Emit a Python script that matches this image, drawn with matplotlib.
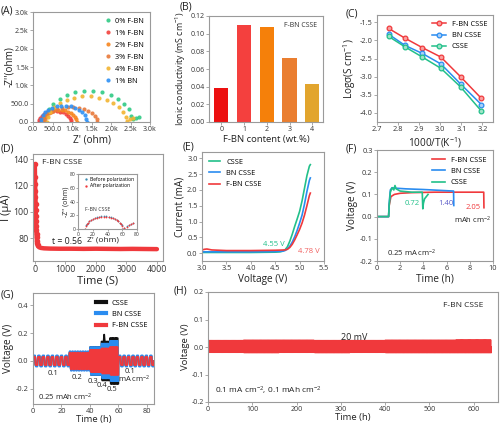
import matplotlib
matplotlib.use("Agg")
import matplotlib.pyplot as plt
from matplotlib.lines import Line2D
import numpy as np

plt.rcParams["font.family"] = ["Open Sans", "DejaVu Sans"]
plt.rcParams["mathtext.fontset"] = "custom"
plt.rcParams["mathtext.rm"] = "Open Sans"
plt.rcParams["mathtext.it"] = "Open Sans:italic"
plt.rcParams["axes.unicode_minus"] = False

W, H = 500, 425

GREEN = "#22c08a"
BLUE = "#2a8cf0"
RED = "#f0393c"

# (A) Nyquist plots, Z' and -Z'' in ohm
a_labels = ["0% F-BN", "1% F-BN", "2% F-BN", "3% F-BN", "4% F-BN", "1% BN"]
a_colors = ["#2fca84", "#f2413c", "#f7851e", "#e8793a", "#f2b431", "#2c90f5"]
a_zre = [
    [310, 335, 406, 524, 681, 870, 1084, 1312, 1548, 1776, 1990, 2179, 2336, 2454, 2525, 2560, 2640, 2720],
    [150, 159, 186, 229, 287, 357, 437, 521, 609, 693, 773, 843, 901, 944, 971, 980],
    [250, 260, 287, 333, 394, 467, 551, 639, 731, 819, 903, 976, 1037, 1083, 1110, 1120],
    [280, 295, 339, 411, 507, 622, 753, 893, 1037, 1177, 1308, 1423, 1519, 1591, 1635, 1650],
    [350, 373, 438, 546, 689, 862, 1058, 1267, 1483, 1692, 1888, 2061, 2204, 2312, 2377, 2400, 2480, 2560],
    [200, 213, 251, 313, 395, 495, 608, 728, 852, 972, 1085, 1185, 1267, 1329, 1367, 1380],
]
a_zim = [
    [0, 177, 346, 500, 632, 736, 808, 846, 846, 808, 736, 632, 500, 346, 177, 70, 100, 140],
    [0, 62, 122, 176, 223, 260, 285, 299, 299, 285, 260, 223, 176, 122, 62, 0],
    [0, 69, 134, 194, 245, 286, 314, 328, 328, 314, 286, 245, 194, 134, 69, 0],
    [0, 83, 163, 235, 297, 346, 380, 398, 398, 380, 346, 297, 235, 163, 83, 0],
    [0, 146, 285, 412, 520, 606, 666, 697, 697, 666, 606, 520, 412, 285, 146, 30, 70, 120],
    [0, 94, 183, 265, 334, 390, 428, 448, 448, 428, 390, 334, 265, 183, 94, 0],
]

# (B) ionic conductivity
b_content = [0, 1, 2, 3, 4]
b_sigma = [0.039, 0.110, 0.107, 0.072, 0.043]
b_colors = ["#ec1010", "#f4403e", "#f5800a", "#ea7e30", "#e2a52e"]

# (C) Arrhenius plot
c_inv_t = [2.755, 2.833, 2.915, 3.003, 3.096, 3.195]
c_fbn = [-1.67, -1.94, -2.20, -2.46, -3.00, -3.60]
c_bn = [-1.83, -2.14, -2.36, -2.65, -3.20, -3.77]
c_csse = [-1.89, -2.18, -2.46, -2.77, -3.28, -3.95]

# (D) chronoamperometry
d_time = [0, 5, 10, 15, 20, 25, 30, 35, 40, 45, 50, 55, 60, 70, 80, 90, 100, 120, 150,
          200, 300, 500, 800, 1200, 1600, 2000, 2400, 2800, 3200, 3600, 4000]
d_curr = [136, 126, 121, 116, 111, 106, 101, 97, 93, 89, 86, 83, 81, 78, 76, 75, 74, 73.5, 73,
          72.6, 72.3, 72.1, 72.0, 72.0, 71.9, 72.0, 71.9, 71.8, 71.9, 71.8, 71.7]
d_in_zre = [10, 10.9, 12, 13.4, 15.2, 17.3, 19.8, 22.5, 25.4, 28.5, 31.7, 35, 38.3, 41.5,
            44.6, 47.5, 50.2, 52.7, 54.8, 56.6, 58, 59.2, 60, 63, 66, 69, 72, 74]
d_in_zim = [0, 4.7, 6.9, 9, 11, 12.7, 14.3, 15.6, 16.6, 17.4, 17.8, 18, 17.8, 17.4,
            16.6, 15.6, 14.3, 12.7, 11, 9, 6.9, 4.7, 0, 1.5, 3.5, 5.5, 7.5, 9]

# (E) LSV
e_v_csse = [3.0, 3.5, 4.0, 4.5, 4.6, 4.65, 4.7, 4.75, 4.8, 4.85, 4.9, 4.95, 5.0, 5.05, 5.1, 5.15, 5.2, 5.22]
e_i_csse = [0.02, 0.02, 0.02, 0.03, 0.04, 0.06, 0.1, 0.2, 0.38, 0.6, 0.85, 1.08, 1.32, 1.65, 2.05, 2.45, 2.75, 2.8]
e_v_bn = [3.0, 3.5, 4.0, 4.5, 4.65, 4.7, 4.75, 4.8, 4.85, 4.9, 4.95, 5.0, 5.05, 5.1, 5.15, 5.2, 5.22]
e_i_bn = [0.04, 0.04, 0.04, 0.05, 0.06, 0.08, 0.13, 0.22, 0.35, 0.52, 0.72, 0.95, 1.2, 1.55, 1.95, 2.3, 2.38]
e_v_fbn = [3.0, 3.05, 3.1, 3.2, 3.5, 4.0, 4.5, 4.7, 4.75, 4.8, 4.85, 4.9, 4.95, 5.0, 5.05, 5.1, 5.15, 5.2, 5.22]
e_i_fbn = [0.1, 0.12, 0.13, 0.1, 0.08, 0.08, 0.09, 0.1, 0.12, 0.18, 0.28, 0.42, 0.58, 0.75, 0.95, 1.2, 1.5, 1.82, 1.9]

# (F) critical current test
f_t_fbn = [0, 1.0, 1.05, 1.2, 1.5, 2.0, 3.0, 5.0, 7.0, 9.0, 9.2, 9.22]
f_v_fbn = [0, 0, 0.05, 0.09, 0.1, 0.105, 0.108, 0.11, 0.11, 0.11, 0.11, 0.04]
f_t_bn = [0, 1.0, 1.05, 1.15, 1.3, 1.6, 2.5, 4.0, 5.5, 6.6, 6.62]
f_v_bn = [0, 0, 0.06, 0.12, 0.13, 0.128, 0.125, 0.122, 0.118, 0.115, 0.05]
f_t_csse = [0, 1.0, 1.05, 1.15, 1.3, 1.45, 1.55, 1.65, 2.0, 3.0, 3.9, 3.95, 4.0, 4.1, 4.25, 4.4]
f_v_csse = [0, 0, 0.05, 0.11, 0.13, 0.12, 0.14, 0.125, 0.115, 0.11, 0.11, 0.035, 0.06, 0.08, 0.09, 0.1]
f_caps = ["0.72", "1.40", "2.05"]

# (G) rate performance, one entry per current step
g_start = [0, 25.5, 40, 48, 54, 60]
g_end = [25.5, 40, 48, 54, 60, 85]
g_cycles = [8, 8, 7, 6, 6, 8]
g_rates = ["0.1", "0.2", "0.3", "0.4", "0.5", "0.1"]
g_eta_csse = [0.035, 0.065, 0.10, 0.14, 0.165, 0.035]
g_eta_bn = [0.04, 0.07, 0.10, 0.125, 0.145, 0.04]
g_eta_fbn = [0.03, 0.06, 0.08, 0.09, 0.10, 0.03]
g_spike_t = [49.6, 50.0, 50.4]
g_spike_v = [0.14, 0.19, 0.14]

# (H) long-term cycling, band amplitude per 80 h block
h_block_end = [80, 160, 240, 320, 400, 480, 560, 640]
h_eta_up = [0.024, 0.025, 0.025, 0.024, 0.024, 0.025, 0.025, 0.026]
h_eta_dn = [0.020, 0.021, 0.020, 0.021, 0.020, 0.021, 0.021, 0.021]
h_half_cycle = 1.0

TICK = 5.3
LABEL = 7.2
INK = "#222222"


def add_panel(fig, l, t, r, b):
    return fig.add_axes([l / W, 1 - b / H, (r - l) / W, (b - t) / H])


def style(ax, size=TICK):
    for s in ax.spines.values():
        s.set_color("#9a9a9a")
        s.set_linewidth(0.8)
    ax.tick_params(direction="out", length=2, width=0.6, color="#9a9a9a",
                   labelsize=size, labelcolor="#333333", pad=1.2)


def square_wave(t0, t1, n_cycles, eta_up, eta_dn):
    half = (t1 - t0) / (2 * n_cycles)
    ts, vs = [], []
    for k in range(2 * n_cycles):
        s = t0 + k * half
        sign = 1 if k % 2 == 0 else -1
        eta = eta_up if sign > 0 else eta_dn
        ts += [s, s + 0.1 * half, s + 0.3 * half, s + 0.9 * half]
        vs += [0, sign * eta * 0.8, sign * eta, sign * eta]
    ts.append(t1)
    vs.append(0)
    return ts, vs


def panel_label(x, y, s):
    fig.text(x / W, 1 - y / H, s, fontsize=7.5, va="center", color=INK)


fig = plt.figure(figsize=(W / 100, H / 100), dpi=100)
lab = dict(fontsize=LABEL, color=INK)

# ---- (A)
ax = add_panel(fig, 33, 12, 150, 122)
style(ax, 5)
for zr, zi, c, l in zip(a_zre, a_zim, a_colors, a_labels):
    ax.plot(zr, zi, "o", ms=3.0, color=c, label=l, alpha=0.9, mec="none")
ax.set_xlim(0, 3000)
ax.set_ylim(0, 3000)
ticks = [0, 500, 1000, 1500, 2000, 2500, 3000]
tick_lab = ["0.0", "500.0", "1.0k", "1.5k", "2.0k", "2.5k", "3.0k"]
ax.set_xticks(ticks, tick_lab)
ax.set_yticks(ticks, tick_lab)
ax.set_xlabel("Z' (ohm)", labelpad=1, **lab)
ax.set_ylabel("-Z''(ohm)", **lab)
ax.yaxis.set_label_coords(-0.155, 0.5)
ax.legend(loc="upper right", frameon=False, fontsize=5.3, handletextpad=0.4,
          labelspacing=0.65, borderaxespad=0.4, handlelength=1.2)
panel_label(1, 11, "(A)")

# ---- (B)
ax = add_panel(fig, 209, 16, 323, 122)
style(ax, 5)
ax.bar(b_content, b_sigma, width=0.62, color=b_colors)
ax.set_xlim(-0.54, 4.47)
ax.set_ylim(0, 0.12)
ax.set_yticks(np.arange(0, 0.121, 0.02), [f"{v:.2f}" for v in np.arange(0, 0.121, 0.02)])
ax.set_xticks(b_content)
ax.set_xlabel("F-BN content (wt.%)", labelpad=1, fontsize=6.8, color=INK)
ax.set_ylabel("Ionic conductivity (mS cm$^{-1}$)", labelpad=1.5, fontsize=6.3, color=INK)
ax.text(0.95, 0.91, "F-BN CSSE", transform=ax.transAxes, ha="right", va="center", fontsize=5, color="#333333")
panel_label(180, 7, "(B)")

# ---- (C)
ax = add_panel(fig, 377, 15, 493, 122)
style(ax)
for y, c, mfc, l in [(c_fbn, RED, "#f8a0a0", "F-BN CSSE"), (c_bn, BLUE, "#a8d0f8", "BN CSSE"),
                     (c_csse, GREEN, "#a0e4c8", "CSSE")]:
    ax.plot(c_inv_t, y, "-o", color=c, lw=1.1, ms=3.4, mfc=mfc, mec=c, mew=0.9, label=l)
ax.set_xlim(2.7, 3.25)
ax.set_ylim(-4.25, -1.3)
ax.set_xticks([2.7, 2.8, 2.9, 3.0, 3.1, 3.2])
ax.set_yticks([-4.0, -3.5, -3.0, -2.5, -2.0, -1.5])
ax.set_xlabel("1000/T(K$^{-1}$)", labelpad=1, **lab)
ax.set_ylabel("Log\u03c3(S cm$^{-1}$)", labelpad=1, **lab)
ax.legend(loc="upper right", frameon=False, fontsize=5.3, handlelength=1.8, labelspacing=0.55, borderaxespad=0.4)
panel_label(346, 14, "(C)")

# ---- (D)
ax = add_panel(fig, 33, 154, 163, 261)
style(ax, 6.3)
ax.plot(d_time, d_curr, "-", color=RED, lw=3.2, solid_capstyle="round")
ax.plot(d_time[:16], d_curr[:16], "o", color=RED, ms=3)
ax.set_xlim(-60, 4200)
ax.set_ylim(62.7, 143.8)
ax.set_xticks([0, 1000, 2000, 3000, 4000])
ax.set_yticks([80, 100, 120, 140])
ax.set_xlabel("Time (S)", labelpad=1, fontsize=8, color=INK)
ax.set_ylabel("I (\u03bcA)", labelpad=1, fontsize=8, color=INK)
ax.text(230, 137, "F-BN CSSE", fontsize=6, va="center", color=INK)
ax.text(560, 77.7, "t = 0.56", fontsize=6.3, va="center", color=INK)
panel_label(1, 149, "(D)")

ax = add_panel(fig, 78, 174, 137, 229)
style(ax, 3.6)
ax.tick_params(length=1.2, pad=0.6)
ax.plot(d_in_zre, [v + 0.4 for v in d_in_zim], "o", ms=1.3, color="#3a8cb0", mec="none", label="Before polarization")
ax.plot(d_in_zre, d_in_zim, "o", ms=1.3, color=RED, mec="none", label="After polarization")
ax.set_xlim(0, 80)
ax.set_ylim(0, 80)
ax.set_xticks([0, 20, 40, 60, 80])
ax.set_yticks([0, 20, 40, 60, 80])
ax.set_xlabel("Z' (ohm)", fontsize=6, color=INK)
ax.xaxis.set_label_coords(0.42, -0.14)
ax.set_ylabel("-Z'' (ohm)", labelpad=0.5, fontsize=5, color=INK)
ax.text(10, 26, "F-BN CSSE", fontsize=3.8, color="#333333")
ax.legend(loc="upper right", frameon=False, fontsize=3.6, handletextpad=0.2, handlelength=1,
          labelspacing=0.3, borderaxespad=0.2, markerscale=1.3)

# ---- (E)
ax = add_panel(fig, 202, 152, 324, 261)
style(ax)
ax.plot(e_v_csse, e_i_csse, color=GREEN, lw=1.2, label="CSSE")
ax.plot(e_v_bn, e_i_bn, color=BLUE, lw=1.2, label="BN CSSE")
ax.plot(e_v_fbn, e_i_fbn, color=RED, lw=1.2, label="F-BN CSSE")
ax.set_xlim(3.0, 5.5)
ax.set_ylim(-0.25, 3.2)
ax.set_xticks([3.0, 3.5, 4.0, 4.5, 5.0, 5.5])
ax.set_yticks([0.0, 0.5, 1.0, 1.5, 2.0, 2.5, 3.0])
ax.set_xlabel("Voltage (V)", labelpad=1, **lab)
ax.set_ylabel("Current (mA)", labelpad=1, **lab)
ax.text(4.26, 0.28, "4.55 V", fontsize=5.5, color=GREEN, va="center")
ax.text(4.96, 0.06, "4.78 V", fontsize=5.5, color="#f06060", va="center")
ax.legend(loc="upper left", frameon=False, fontsize=5.3, handlelength=1.6, labelspacing=0.55, borderaxespad=0.5)
panel_label(183, 147, "(E)")

# ---- (F)
ax = add_panel(fig, 377, 150, 493, 261)
style(ax)
ax.plot(f_t_fbn, f_v_fbn, color=RED, lw=1.2, label="F-BN CSSE")
ax.plot(f_t_bn, f_v_bn, color=BLUE, lw=1.2, label="BN CSSE")
ax.plot(f_t_csse, f_v_csse, color=GREEN, lw=1.2, label="CSSE")
ax.set_xlim(0, 10)
ax.set_ylim(-0.2, 0.3)
ax.set_xticks([0, 2, 4, 6, 8, 10])
ax.set_yticks([-0.2, -0.1, 0.0, 0.1, 0.2, 0.3])
ax.set_xlabel("Time (h)", labelpad=1, **lab)
ax.set_ylabel("Voltage (V)", labelpad=1, **lab)
ax.text(3.0, 0.057, f_caps[0], fontsize=5.5, color=GREEN, ha="center", va="center")
ax.text(5.9, 0.057, f_caps[1], fontsize=5.5, color="#5a5ac8", ha="center", va="center")
ax.text(8.3, 0.04, f_caps[2], fontsize=5.5, color=RED, ha="center", va="center")
ax.text(9.8, -0.015, "mAh cm$^{-2}$", fontsize=5.5, color=INK, ha="right", va="center")
ax.text(0.9, -0.165, "0.25 mA cm$^{-2}$", fontsize=5.5, color=INK, va="center")
ax.legend(loc="upper right", frameon=False, fontsize=5.3, handlelength=1.8, labelspacing=0.55, borderaxespad=0.5)
panel_label(346, 149, "(F)")

# ---- (G)
ax = add_panel(fig, 33, 293, 154, 404)
style(ax)
ax.tick_params(axis="x", pad=0.8)
for etas, c, l in [(g_eta_csse, "#111111", "CSSE"), (g_eta_bn, BLUE, "BN CSSE"), (g_eta_fbn, RED, "F-BN CSSE")]:
    tt, vv = [], []
    for t0, t1, n, e in zip(g_start, g_end, g_cycles, etas):
        ts, vs = square_wave(t0, t1, n, e, e)
        tt += ts
        vv += vs
    ax.plot(tt, vv, color=c, lw=1.3, label=l)
    if l == "CSSE":
        ax.plot(g_spike_t, g_spike_v, color=c, lw=1.3)
ax.set_xlim(0, 85)
ax.set_ylim(-0.31, 0.49)
ax.set_xticks([0, 20, 40, 60, 80])
ax.set_yticks([-0.2, 0.0, 0.2, 0.4])
ax.set_xlabel("Time (h)", fontsize=6.8, color=INK)
ax.xaxis.set_label_coords(0.5, -0.1)
ax.set_ylabel("Voltage (V)", labelpad=1, **lab)
g_lab_x = [14, 31, 42, 48.2, 55.2, 68]
g_lab_y = [-0.09, -0.117, -0.145, -0.176, -0.205, -0.073]
for x, y, s in zip(g_lab_x, g_lab_y, g_rates):
    ax.text(x, y, s, fontsize=5.5, ha="center", va="center", color=INK)
ax.text(60, -0.133, "mA cm$^{-2}$", fontsize=5.5, va="center", color=INK)
ax.text(3.5, -0.26, "0.25 mAh cm$^{-2}$", fontsize=5.5, va="center", color=INK)
handles = [Line2D([], [], color=c, lw=3) for c in ["#111111", BLUE, RED]]
ax.legend(handles, ["CSSE", "BN CSSE", "F-BN CSSE"], loc="upper right", frameon=False, fontsize=5.3,
          handlelength=1.4, labelspacing=0.55, borderaxespad=0.5)
panel_label(1, 295, "(G)")

# ---- (H)
ax = add_panel(fig, 208, 292, 498, 402)
style(ax, 5)
ax.tick_params(axis="x", pad=0.8)
tt, vv = [], []
t0 = 0
for t1, eu, ed in zip(h_block_end, h_eta_up, h_eta_dn):
    n = int(round((t1 - t0) / (2 * h_half_cycle)))
    ts, vs = square_wave(t0, t1, n, eu, ed)
    tt += ts
    vv += vs
    t0 = t1
ax.plot(tt, vv, color=RED, lw=0.8)
ax.set_xlim(0, 655)
ax.set_ylim(-0.2, 0.2)
ax.set_xticks([0, 100, 200, 300, 400, 500, 600])
ax.set_yticks([-0.2, -0.1, 0.0, 0.1, 0.2])
ax.set_xlabel("Time (h)", fontsize=6.8, color=INK)
ax.xaxis.set_label_coords(0.5, -0.1)
ax.set_ylabel("Voltage (V)", labelpad=1, fontsize=6.8, color=INK)
ax.text(0.95, 0.88, "F-BN CSSE", transform=ax.transAxes, ha="right", va="center", fontsize=6, color=INK)
ax.text(330, 0.035, "20 mV", fontsize=6.5, ha="center", va="center", color=INK)
ax.text(15, -0.16, "0.1 mA cm$^{-2}$, 0.1 mAh cm$^{-2}$", fontsize=6, va="center", color=INK)
panel_label(174, 291, "(H)")

fig.savefig("out.png", dpi=100)
